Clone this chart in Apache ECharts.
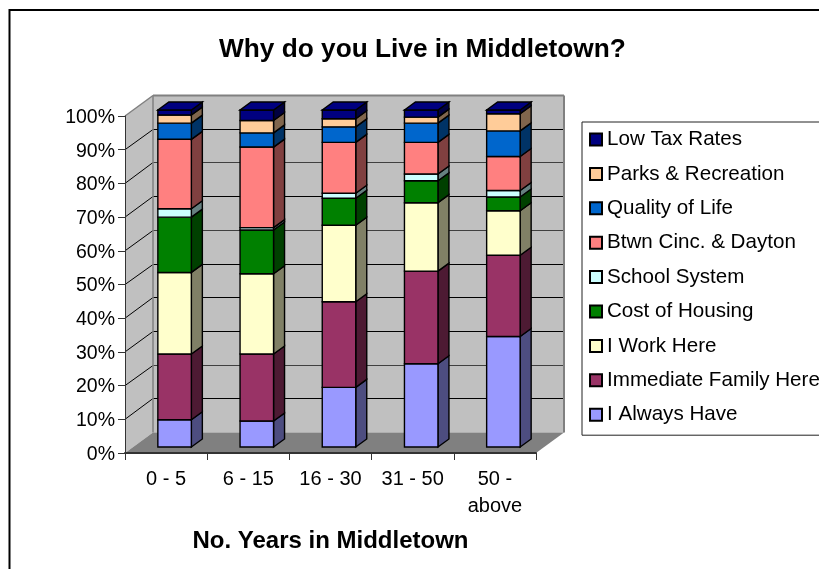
<!DOCTYPE html>
<html>
<head>
<meta charset="utf-8">
<style>html,body{margin:0;padding:0;background:#fff}#c{width:819px;height:569px}</style>
<script src="https://cdn.jsdelivr.net/npm/echarts@6/dist/echarts.min.js"></script>
</head>
<body>
<div id="c"></div>
<script>
const categories = ['0 - 5', '6 - 15', '16 - 30', '31 - 50', '50 -\nabove'];
const yTicks = [0, 10, 20, 30, 40, 50, 60, 70, 80, 90, 100];
const softGridTicks = [20, 60, 80];
const seriesNames = ['I Always Have', 'Immediate Family Here', 'I Work Here', 'Cost of Housing', 'School System', 'Btwn Cinc. & Dayton', 'Quality of Life', 'Parks & Recreation', 'Low Tax Rates'];
const alwaysHave = [8.1, 7.7, 17.7, 24.7, 32.8];
const family = [19.5, 19.9, 25.4, 27.5, 24.1];
const workHere = [24.2, 23.8, 22.7, 20.3, 13.2];
const housing = [16.4, 13.0, 8.0, 6.5, 4.1];
const school = [2.5, 0.7, 1.5, 2.0, 1.9];
const between = [20.6, 23.9, 15.1, 9.4, 10.1];
const quality = [4.8, 4.2, 4.6, 5.7, 7.6];
const parks = [2.4, 3.7, 2.4, 1.8, 5.1];
const lowTax = [1.5, 3.1, 2.6, 2.1, 1.1];
const allValues = [alwaysHave, family, workHere, housing, school, between, quality, parks, lowTax];
const frontColors = ['#9999FF', '#993366', '#FFFFCC', '#008000', '#CCFFFF', '#FF8080', '#0066CC', '#FFCC99', '#000080'];
const sideColors = ['#4D4D80', '#4D1A33', '#808066', '#004000', '#668080', '#804040', '#003366', '#80664D', '#000040'];

const FONT = '"Liberation Sans", Arial, sans-serif';
const WALL_DX = 28, WALL_DY = -20.5;
const BAR_DX = 11, BAR_DY = -8, BAR_W = 33.5;
const BAR_SHIFT_X = 8.5, BAR_SHIFT_Y = -6;

function poly(points, fill, stroke, lw) {
  return { type: 'polygon', shape: { points }, style: { fill, stroke: stroke || null, lineWidth: lw || 0 } };
}
function seg(x1, y1, x2, y2, stroke, lw) {
  return { type: 'line', shape: { x1, y1, x2, y2 }, style: { stroke, lineWidth: lw } };
}

function renderWalls(params, api) {
  const band = api.size([1, 0])[0];
  const p0 = api.coord([0, 0]), pT = api.coord([0, 100]), pE = api.coord([categories.length - 1, 0]);
  const L = p0[0] - band / 2, R = pE[0] + band / 2, B = p0[1], T = pT[1];
  const dx = WALL_DX, dy = WALL_DY;
  const kids = [];
  kids.push(poly([[L + dx, T + dy], [R + dx, T + dy], [R + dx, B + dy], [L + dx, B + dy]], '#C0C0C0'));
  kids.push(poly([[L, T], [L + dx, T + dy], [L + dx, B + dy], [L, B]], '#C0C0C0'));
  kids.push(poly([[L, B], [L + dx, B + dy], [R + dx, B + dy], [R, B]], '#808080'));
  yTicks.forEach(function (t) {
    if (t === 0 || t === 100) return;
    const y = api.coord([0, t])[1];
    const by = Math.floor(y + dy) + 0.5;
    const color = softGridTicks.indexOf(t) >= 0 ? '#404040' : '#000';
    kids.push(seg(L, y, L + dx, by, '#000', 1));
    kids.push(seg(L + dx, by, R + dx, by, color, 1));
  });
  kids.push(seg(L, T, L + dx, T + dy, '#808080', 1.5));
  kids.push(seg(L + dx, T + dy, R + dx, T + dy, '#808080', 2));
  kids.push(seg(R + dx, T + dy, R + dx, B + dy, '#808080', 2));
  kids.push(seg(L + dx, T + dy, L + dx, B + dy, '#808080', 1.5));
  return { type: 'group', children: kids };
}

function makeRenderBar(si) {
  return function (params, api) {
    const i = api.value(0), v0 = api.value(1), v1 = api.value(2);
    const c0 = api.coord([i, v0]), c1 = api.coord([i, v1]);
    const xl = c0[0] + BAR_SHIFT_X - BAR_W / 2, xr = xl + BAR_W;
    const yb = c0[1] + BAR_SHIFT_Y, yt = c1[1] + BAR_SHIFT_Y;
    const lw = 1.4;
    const kids = [
      poly([[xr, yb], [xr + BAR_DX, yb + BAR_DY], [xr + BAR_DX, yt + BAR_DY], [xr, yt]], sideColors[si], '#000', lw),
      poly([[xl, yb], [xr, yb], [xr, yt], [xl, yt]], frontColors[si], '#000', lw)
    ];
    if (si === seriesNames.length - 1) {
      kids.push(poly([[xl, yt], [xr, yt], [xr + BAR_DX, yt + BAR_DY], [xl + BAR_DX, yt + BAR_DY]], frontColors[si], '#000', lw));
    }
    return { type: 'group', children: kids };
  };
}

const barSeries = seriesNames.map(function (name, si) {
  const data = categories.map(function (c, i) {
    let s = 0;
    for (let k = 0; k < si; k++) s += allValues[k][i];
    return [i, s, s + allValues[si][i]];
  });
  return {
    type: 'custom', name, coordinateSystem: 'cartesian2d', renderItem: makeRenderBar(si), clip: false, z: 3,
    encode: { x: 0, y: [1, 2] }, data,
    itemStyle: { color: frontColors[si], borderColor: '#000', borderWidth: 1.4 }
  };
});

const option = {
  animation: false,
  backgroundColor: '#fff',
  title: {
    text: 'Why do you Live in Middletown?', left: 214, top: 32,
    textStyle: { fontFamily: FONT, fontSize: 26.25, fontWeight: 'bold', color: '#000' }
  },
  grid: { left: 125, top: 116, width: 411, height: 337, containLabel: false },
  xAxis: {
    type: 'category', data: categories, name: 'No. Years in Middletown', nameLocation: 'middle', nameGap: 76,
    nameTextStyle: { fontFamily: FONT, fontSize: 24, fontWeight: 'bold', color: '#000' },
    axisLine: { lineStyle: { color: '#333', width: 2 } },
    axisTick: { show: true, alignWithLabel: false, length: 7, lineStyle: { color: '#333', width: 1 } },
    axisLabel: { fontFamily: FONT, fontSize: 20, color: '#000', margin: 13, interval: 0, lineHeight: 27 },
    splitLine: { show: false }
  },
  yAxis: {
    type: 'value', min: 0, max: 100, interval: 10,
    axisLine: { show: true, lineStyle: { color: '#333', width: 1 } },
    axisTick: { show: true, length: 7, lineStyle: { color: '#333', width: 1 } },
    axisLabel: {
      margin: 10, formatter: '{a|{value}%}',
      rich: { a: { fontFamily: FONT, fontSize: 19.5, color: '#000', padding: [3, 0, 0, 0] } }
    },
    splitLine: { show: false }
  },
  legend: {
    orient: 'vertical', left: 582, top: 122, padding: [7, 30, 10, 7],
    backgroundColor: '#fff', borderColor: '#222', borderWidth: 1,
    itemWidth: 12, itemHeight: 12, itemGap: 13.4, icon: 'rect', selectedMode: false,
    data: seriesNames.slice().reverse(),
    textStyle: { fontFamily: FONT, fontSize: 20.6, color: '#000', lineHeight: 20, padding: [-3, 0, 0, 0] }
  },
  graphic: [
    { type: 'rect', z: 10, silent: true, shape: { x: 9.5, y: 10, width: 900, height: 700 }, style: { fill: null, stroke: '#000', lineWidth: 2 } }
  ],
  series: [
    { type: 'custom', coordinateSystem: 'cartesian2d', renderItem: renderWalls, clip: false, z: -1, silent: true, data: [[0, 0]] }
  ].concat(barSeries)
};
const chart = echarts.init(document.getElementById('c'), null, { renderer: 'canvas' });
chart.setOption(option);
</script>
</body>
</html>
